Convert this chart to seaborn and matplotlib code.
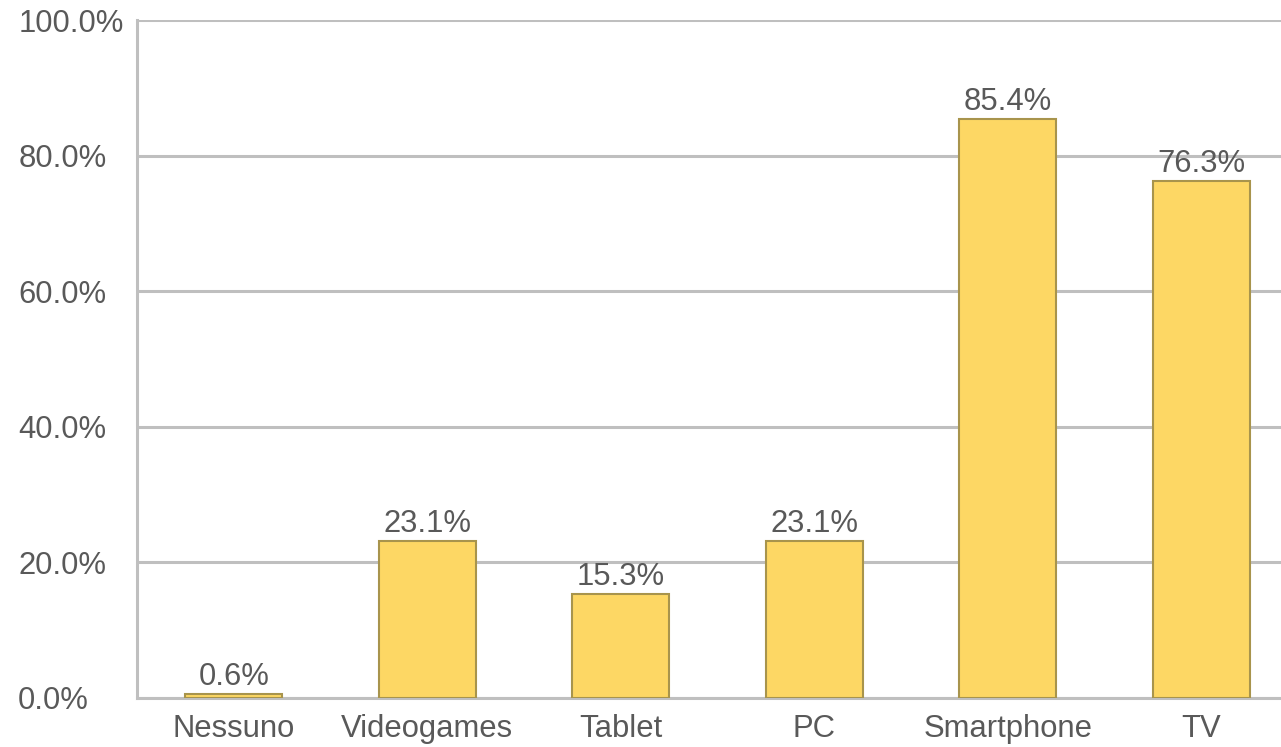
import matplotlib
matplotlib.use("Agg")
import matplotlib.pyplot as plt
import seaborn as sns
import pandas as pd
import numpy as np

categories = ["Nessuno", "Videogames", "Tablet", "PC", "Smartphone", "TV"]
values = [0.6, 23.1, 15.3, 23.1, 85.4, 76.3]
y_ticks = [0, 20, 40, 60, 80, 100]

sns.set_theme(style="white")
plt.rcParams["font.family"] = ["Liberation Sans", "DejaVu Sans"]

text_color = "#595959"
grid_color = "#BFBFBF"
bar_color = "#FDD764"
edge_color = "#A8944C"
fs = 22.3

df = pd.DataFrame({"cat": categories, "val": values})

fig = plt.figure(figsize=(12.81, 7.47), dpi=100)
ax = fig.add_axes([0.1069, 0.0656, 0.9064, 0.9076])

sns.barplot(data=df, x="cat", y="val", color=bar_color, width=0.5,
            edgecolor=edge_color, linewidth=1.5, saturation=1, ax=ax, zorder=3)

ax.set_ylim(0, 100)
ax.set_xlim(-0.5, len(categories) - 0.5)
ax.set_yticks(y_ticks)
ax.set_yticklabels([f"{t:.1f}%" for t in y_ticks])
ax.yaxis.grid(True, color=grid_color, linewidth=2.2, zorder=0)
ax.set_axisbelow(True)
ax.set_xlabel("")
ax.set_ylabel("")

for s in ["top", "right"]:
    ax.spines[s].set_visible(False)
for s in ["left", "bottom"]:
    ax.spines[s].set_color(grid_color)
    ax.spines[s].set_linewidth(2.2)

# y labels are left-aligned in a column at the left edge of the figure
ax.tick_params(axis="y", length=0, pad=85.5, labelsize=fs, labelcolor=text_color)
for lab in ax.get_yticklabels():
    lab.set_horizontalalignment("left")
ax.tick_params(axis="x", which="major", length=0, pad=11.5, labelsize=fs, labelcolor=text_color)
ax.set_xticks(np.arange(-0.5, len(categories) - 0.5), minor=True)
ax.tick_params(axis="x", which="minor", length=8, width=2, color=grid_color)

for i, v in enumerate(values):
    ax.text(i, v + 0.3, f"{v:.1f}%", ha="center", va="bottom",
            fontsize=fs, color=text_color, zorder=4)

fig.savefig("out.png", dpi=100)
